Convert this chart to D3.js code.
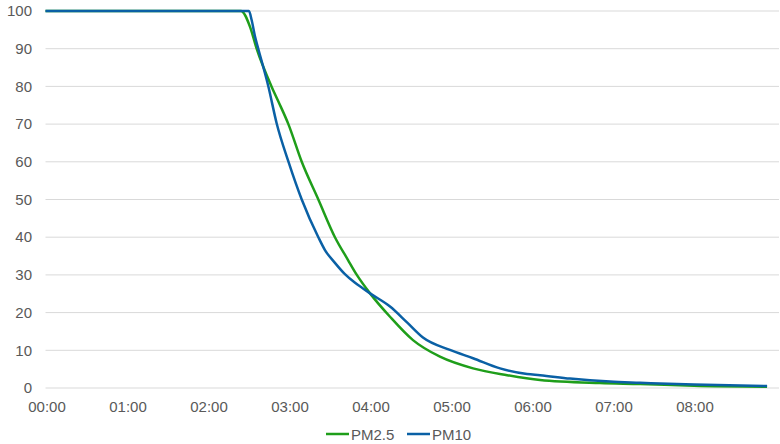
<!DOCTYPE html>
<html>
<head>
<meta charset="utf-8">
<script src="https://cdn.jsdelivr.net/npm/d3@7"></script>
<style>
  body { margin: 0; background: #fff; }
  text { font-family: "Liberation Sans", Arial, sans-serif; }
</style>
</head>
<body>
<script>
const width = 780;
const height = 444;
const margin = { left: 45.5, top: 11, right: 1, bottom: 56 };

// minutes since 00:00, value
const pm25 = [
  [0, 100], [144.8, 100], [151.5, 95.8], [156.4, 90], [167.4, 80], [172.5, 76],
  [179.9, 70], [189.8, 60], [202.1, 50], [214.4, 40], [224, 34], [230.6, 30],
  [240.4, 25.1], [255.2, 18.9], [272.2, 12.7], [292.2, 8.3], [316.7, 5.2],
  [341.9, 3.4], [366.3, 2.1], [410.7, 1.3], [440.4, 1.05], [480.4, 0.6],
  [534.5, 0.35]
];
const pm10 = [
  [0, 100], [150.7, 100], [152.7, 97.6], [155.2, 93.2], [157.6, 90],
  [165, 80.1], [171.3, 70.1], [179.9, 60.1], [189.8, 50], [202.1, 40],
  [207, 36.6], [214.4, 33.2], [221.8, 30.2], [229.3, 27.9], [235.2, 26.4],
  [240.4, 25.1], [255.2, 21.6], [267.8, 17.4], [279.6, 13.4], [299.6, 10.1],
  [316.7, 7.9], [336.7, 5.2], [356.7, 3.7], [366.3, 3.4], [388.5, 2.5],
  [418.1, 1.7], [440.4, 1.4], [480.4, 0.9], [534.5, 0.5]
];
const seriesNames = ["PM2.5", "PM10"];
const seriesColors = ["#1f9e1a", "#0a60a5"];
const yTicks = [0, 10, 20, 30, 40, 50, 60, 70, 80, 90, 100];
const xTicks = [0, 60, 120, 180, 240, 300, 360, 420, 480];

const svg = d3.select("body").append("svg")
  .attr("width", width)
  .attr("height", height);

const x = d3.scaleLinear()
  .domain([0, 540])
  .range([margin.left, margin.left + 9 * 81]);
const y = d3.scaleLinear()
  .domain([0, 100])
  .range([height - margin.bottom, margin.top]);

// grid
svg.append("g")
  .selectAll("line")
  .data(yTicks)
  .join("line")
  .attr("x1", margin.left)
  .attr("x2", width - margin.right)
  .attr("y1", d => y(d))
  .attr("y2", d => y(d))
  .attr("stroke", "#d9d9d9")
  .attr("stroke-width", 1);

// y labels
svg.append("g")
  .selectAll("text")
  .data(yTicks)
  .join("text")
  .attr("x", 32)
  .attr("y", d => y(d))
  .attr("dy", "0.35em")
  .attr("text-anchor", "end")
  .attr("font-size", 15)
  .attr("fill", "#595959")
  .text(d => d);

// x labels
const fmt = m => String(Math.floor(m / 60)).padStart(2, "0") + ":" + String(m % 60).padStart(2, "0");
svg.append("g")
  .selectAll("text")
  .data(xTicks)
  .join("text")
  .attr("x", d => x(d) + 1.5)
  .attr("y", 412)
  .attr("text-anchor", "middle")
  .attr("font-size", 15)
  .attr("fill", "#595959")
  .text(fmt);

const line = d3.line()
  .curve(d3.curveMonotoneX)
  .x(d => x(d[0]))
  .y(d => y(d[1]));

[pm25, pm10].forEach((s, i) => {
  svg.append("path")
    .datum(s)
    .attr("d", line)
    .attr("fill", "none")
    .attr("stroke", seriesColors[i])
    .attr("stroke-width", 2.5)
    .attr("stroke-linejoin", "round");
});

// legend
const legendX = [326, 407];
seriesNames.forEach((name, i) => {
  const g = svg.append("g").attr("transform", `translate(${legendX[i]}, 434)`);
  g.append("line")
    .attr("x1", 0).attr("x2", 23)
    .attr("stroke", seriesColors[i])
    .attr("stroke-width", 2.5);
  g.append("text")
    .attr("x", 25)
    .attr("y", 5.5)
    .attr("font-size", 15)
    .attr("fill", "#595959")
    .text(name);
});
</script>
</body>
</html>
